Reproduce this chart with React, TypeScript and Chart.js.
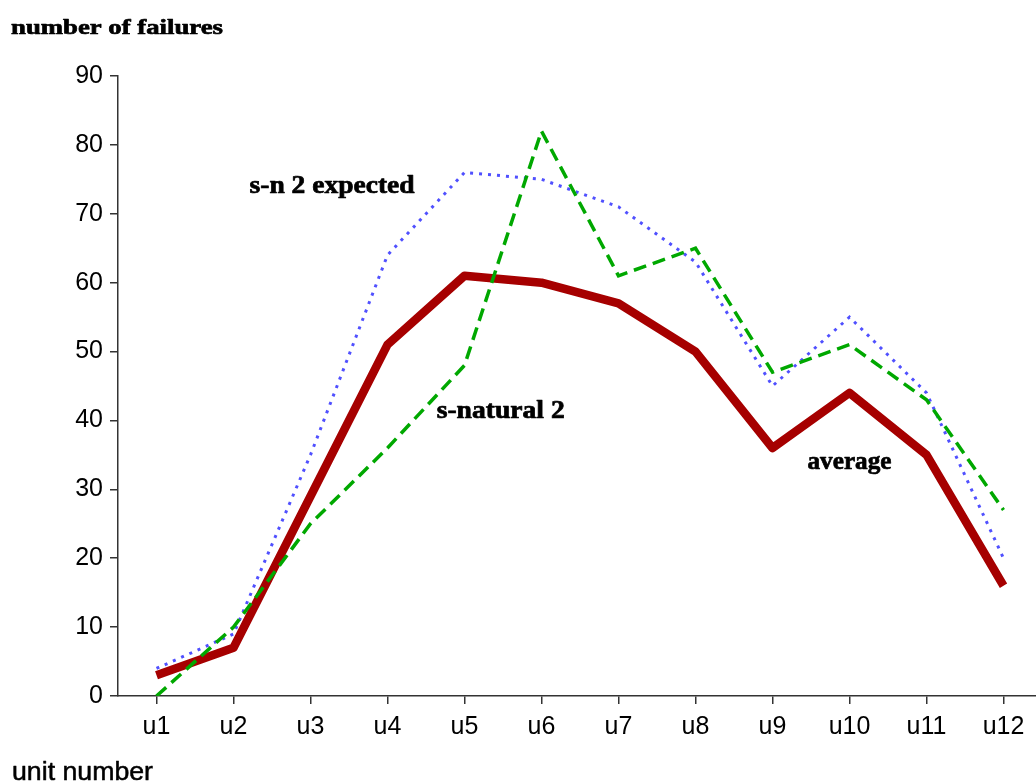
import React, { useEffect, useRef } from "react";
import { Chart, registerables } from "chart.js";

Chart.register(...registerables);

const categories = ["u1", "u2", "u3", "u4", "u5", "u6", "u7", "u8", "u9", "u10", "u11", "u12"];
const averageValues = [3, 7, 29, 51, 61, 60, 57, 50, 36, 44, 35, 16];
const naturalValues = [0, 10, 25, 36, 48, 82, 61, 65, 47, 51, 43, 27];
const expectedValues = [4, 9, 35, 64, 76, 75, 71, 63, 45, 55, 44, 20];
const yMin = 0;
const yMax = 90;
const yStep = 10;

const yTitle = "number of failures";
const xTitle = "unit number";
const seriesNames = ["average", "s-natural 2", "s-n 2 expected"];

// annotation anchors in data coordinates (category index, value)
const labelIndex = [9, 4.47, 2.28];
const labelValue = [33.0, 40.4, 73.0];

const W = 1044;
const H = 783;

function drawStretched(
  ctx: CanvasRenderingContext2D,
  text: string,
  font: string,
  x: number,
  y: number,
  width: number,
  align: "left" | "center",
  heavy: number
) {
  ctx.save();
  ctx.font = font;
  ctx.fillStyle = "#000";
  ctx.strokeStyle = "#000";
  ctx.textBaseline = "alphabetic";
  ctx.textAlign = "left";
  const natural = ctx.measureText(text).width;
  const sx = width / natural;
  const left = align === "center" ? x - width / 2 : x;
  ctx.translate(left, y);
  ctx.scale(sx, 1);
  ctx.fillText(text, 0, 0);
  if (heavy > 0) {
    ctx.lineWidth = heavy;
    ctx.lineJoin = "round";
    ctx.strokeText(text, 0, 0);
  }
  ctx.restore();
}

const textPlugin = {
  id: "textPlugin",
  afterDraw(chart: any) {
    const ctx = chart.ctx as CanvasRenderingContext2D;
    const xs = chart.scales.x;
    const ys = chart.scales.y;
    const serifBold = 'bold 25px "Liberation Serif", "Times New Roman", serif';
    const widths = [84, 128, 165];
    for (let i = 0; i < seriesNames.length; i++) {
      const px = xs.getPixelForValue(labelIndex[i]);
      const py = ys.getPixelForValue(labelValue[i]);
      drawStretched(ctx, seriesNames[i], serifBold, px, py, widths[i], "center", 0.7);
    }
    drawStretched(ctx, yTitle, 'bold 22px "Liberation Serif", "Times New Roman", serif', 11, 34, 212, "left", 0.7);
    drawStretched(ctx, xTitle, '25px "Liberation Sans", Arial, sans-serif', 12, 780, 141, "left", 0.5);
  },
};

export default function App() {
  const ref = useRef<HTMLCanvasElement | null>(null);

  useEffect(() => {
    if (!ref.current) return;
    const axisColor = "#333333";
    const tickFont = { family: '"Liberation Sans", Arial, sans-serif', size: 25 };
    const chart = new Chart(ref.current, {
      type: "line",
      data: {
        labels: categories,
        datasets: [
          {
            label: seriesNames[0],
            data: averageValues,
            borderColor: "#A60000",
            backgroundColor: "#A60000",
            borderWidth: 8.5,
            pointRadius: 0,
            tension: 0,
            borderJoinStyle: "round",
            borderCapStyle: "butt",
            order: 3,
          },
          {
            label: seriesNames[2],
            data: expectedValues,
            borderColor: "#5050FF",
            backgroundColor: "#5050FF",
            borderWidth: 3,
            borderDash: [3, 6],
            pointRadius: 0,
            tension: 0,
            order: 2,
          },
          {
            label: seriesNames[1],
            data: naturalValues,
            borderColor: "#00A800",
            backgroundColor: "#00A800",
            borderWidth: 3.5,
            borderDash: [13, 7],
            pointRadius: 0,
            tension: 0,
            order: 1,
          },
        ],
      },
      options: {
        responsive: false,
        animation: false,
        devicePixelRatio: 1,
        layout: { padding: { top: 76, right: 2, left: 0, bottom: 0 } },
        plugins: {
          legend: { display: false },
          tooltip: { enabled: false },
          title: { display: false },
        },
        scales: {
          x: {
            type: "category",
            offset: true,
            grid: {
              offset: false,
              drawOnChartArea: false,
              drawTicks: true,
              tickLength: 8,
              color: axisColor,
              lineWidth: 1.5,
            },
            border: { display: true, color: axisColor, width: 1.5 },
            ticks: { color: "#000", font: tickFont, padding: 8, maxRotation: 0, autoSkip: false },
            afterFit: (scale: any) => {
              scale.height = 87;
            },
          },
          y: {
            min: yMin,
            max: yMax,
            grid: {
              drawOnChartArea: false,
              drawTicks: true,
              tickLength: 8,
              color: axisColor,
              lineWidth: 1.5,
            },
            border: { display: true, color: axisColor, width: 1.5 },
            ticks: { stepSize: yStep, color: "#000", font: tickFont, padding: 7 },
            afterFit: (scale: any) => {
              scale.width = 118;
            },
          },
        },
      },
      plugins: [textPlugin],
    });
    return () => chart.destroy();
  }, []);

  return (
    <div style={{ position: "absolute", left: 0, top: 0, width: 1036, height: 783, overflow: "hidden", background: "#fff" }}>
      <canvas ref={ref} width={W} height={H} style={{ width: W, height: H, display: "block" }} />
    </div>
  );
}
